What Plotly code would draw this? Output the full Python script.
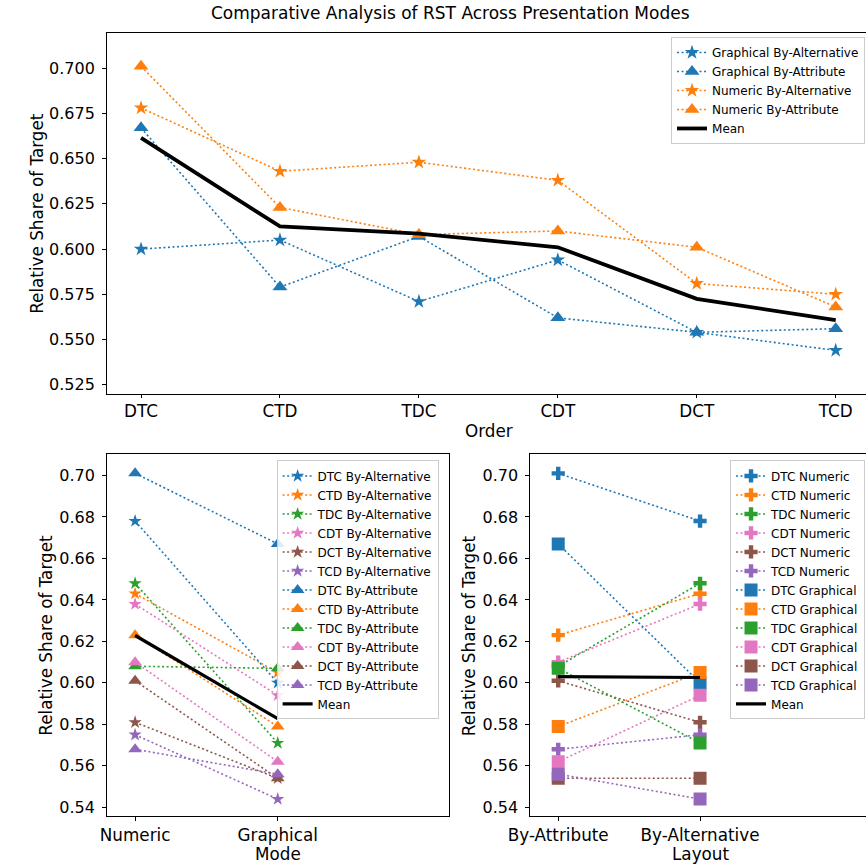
import numpy as np
import plotly.graph_objects as go

# ---------------- data ----------------
orders = ["DTC", "CTD", "TDC", "CDT", "DCT", "TCD"]
graph_alt = [0.600, 0.605, 0.571, 0.594, 0.554, 0.544]
graph_attr = [0.667, 0.579, 0.607, 0.562, 0.554, 0.556]
num_alt = [0.678, 0.643, 0.648, 0.638, 0.581, 0.575]
num_attr = [0.701, 0.623, 0.608, 0.610, 0.601, 0.568]
modes = ["Numeric", "Graphical"]
layouts = ["By-Attribute", "By-Alternative"]

order_colors = ["#1f77b4", "#ff7f0e", "#2ca02c", "#e377c2", "#8c564b", "#9467bd"]
BLUE, ORANGE = "#1f77b4", "#ff7f0e"

W, H = 866, 867
FONT = "DejaVu Sans"
DOT = "2px,2.5px"

fig = go.Figure()

def px_x(p):
    return p / W

def px_y(p):
    return 1 - p / H

# ---------------- top panel ----------------
top_series = [
    ("Graphical By-Alternative", graph_alt, BLUE, "star", 11),
    ("Graphical By-Attribute", graph_attr, BLUE, "triangle-up", 13),
    ("Numeric By-Alternative", num_alt, ORANGE, "star", 11),
    ("Numeric By-Attribute", num_attr, ORANGE, "triangle-up", 13),
]
for name, vals, col, sym, size in top_series:
    fig.add_trace(go.Scatter(
        x=orders, y=vals, name=name, mode="lines+markers",
        line=dict(color=col, width=1.6, dash=DOT),
        marker=dict(symbol=sym, size=size, color=col, line=dict(width=0)),
        xaxis="x", yaxis="y", legend="legend"))
top_mean = np.mean([graph_alt, graph_attr, num_alt, num_attr], axis=0)
fig.add_trace(go.Scatter(
    x=orders, y=top_mean, name="Mean", mode="lines",
    line=dict(color="black", width=3.8), xaxis="x", yaxis="y", legend="legend"))

# ---------------- bottom-left panel ----------------
for i, o in enumerate(orders):
    fig.add_trace(go.Scatter(
        x=modes, y=[num_alt[i], graph_alt[i]], name=f"{o} By-Alternative",
        mode="lines+markers",
        line=dict(color=order_colors[i], width=1.6, dash=DOT),
        marker=dict(symbol="star", size=10, color=order_colors[i], line=dict(width=0)),
        xaxis="x2", yaxis="y2", legend="legend2"))
for i, o in enumerate(orders):
    fig.add_trace(go.Scatter(
        x=modes, y=[num_attr[i], graph_attr[i]], name=f"{o} By-Attribute",
        mode="lines+markers",
        line=dict(color=order_colors[i], width=1.6, dash=DOT),
        marker=dict(symbol="triangle-up", size=12, color=order_colors[i], line=dict(width=0)),
        xaxis="x2", yaxis="y2", legend="legend2"))
bl_mean = [np.mean(num_alt + num_attr), np.mean(graph_alt + graph_attr)]
fig.add_trace(go.Scatter(
    x=modes, y=bl_mean, name="Mean", mode="lines",
    line=dict(color="black", width=3.2), xaxis="x2", yaxis="y2", legend="legend2"))

# ---------------- bottom-right panel ----------------
for i, o in enumerate(orders):
    fig.add_trace(go.Scatter(
        x=layouts, y=[num_attr[i], num_alt[i]], name=f"{o} Numeric",
        mode="lines+markers",
        line=dict(color=order_colors[i], width=1.6, dash=DOT),
        marker=dict(symbol="cross", size=11, color=order_colors[i], line=dict(width=0)),
        xaxis="x3", yaxis="y3", legend="legend3"))
for i, o in enumerate(orders):
    fig.add_trace(go.Scatter(
        x=layouts, y=[graph_attr[i], graph_alt[i]], name=f"{o} Graphical",
        mode="lines+markers",
        line=dict(color=order_colors[i], width=1.6, dash=DOT),
        marker=dict(symbol="square", size=13, color=order_colors[i], line=dict(width=0)),
        xaxis="x3", yaxis="y3", legend="legend3"))
br_mean = [np.mean(num_attr + graph_attr), np.mean(num_alt + graph_alt)]
fig.add_trace(go.Scatter(
    x=layouts, y=br_mean, name="Mean", mode="lines",
    line=dict(color="black", width=3.2), xaxis="x3", yaxis="y3", legend="legend3"))

# ---------------- axes ----------------
def xax(domain, rng, size, standoff):
    return dict(domain=domain, range=rng, type="category", showline=True, linecolor="black",
                linewidth=1, mirror=True, ticks="outside", ticklen=3.5, tickcolor="black",
                showgrid=False, zeroline=False, ticklabelstandoff=standoff,
                tickfont=dict(size=size, color="black"))

def yax(domain, rng, dtick, fmt, size, mirror):
    return dict(domain=domain, range=rng, showline=True, linecolor="black", linewidth=1,
                mirror=mirror, ticks="outside", ticklen=3.5, tickcolor="black",
                showgrid=False, zeroline=False, dtick=dtick, tick0=0, tickformat=fmt,
                ticklabelstandoff=4, tickfont=dict(size=size, color="black"))

top_dom_y = [px_y(394.3), px_y(32.7)]
bot_dom_y = [px_y(817), px_y(455)]

legend_common = dict(bgcolor="rgba(255,255,255,0.85)", bordercolor="#cccccc", borderwidth=1,
                     tracegroupgap=0, yanchor="top", xanchor="right",
                     font=dict(family=FONT, size=12, color="black"))

annotations = [
    dict(text="Comparative Analysis of RST Across Presentation Modes", x=px_x(440), y=px_y(13),
         font=dict(size=17)),
    dict(text="Relative Share of Target", x=px_x(17), y=px_y(213.5), textangle=-90,
         font=dict(size=16.8)),
    dict(text="Order", x=px_x(480), y=px_y(431), font=dict(size=16.8)),
    dict(text="Relative Share of Target", x=px_x(26), y=px_y(636), textangle=-90,
         font=dict(size=16.8)),
    dict(text="Mode", x=px_x(263), y=px_y(855), font=dict(size=16.8)),
    dict(text="Relative Share of Target", x=px_x(459), y=px_y(636), textangle=-90,
         font=dict(size=16.8)),
    dict(text="Layout", x=px_x(696), y=px_y(855), font=dict(size=16.8)),
]
for a in annotations:
    a.update(xref="paper", yref="paper", xanchor="center", yanchor="middle", showarrow=False)
    a["font"].update(family=FONT, color="black")

fig.update_layout(
    width=W, height=H, margin=dict(l=0, r=0, t=0, b=0),
    paper_bgcolor="white", plot_bgcolor="white",
    font=dict(family=FONT, color="black"),
    showlegend=True,
    xaxis=xax([px_x(87.7), 1.0], [-0.248, 5.218], 16.8, -2),
    yaxis=yax(top_dom_y, [0.520, 0.7196], 0.025, ".3f", 16, False),
    xaxis2=dict(xax([px_x(87.7), px_x(438.5)], [-0.2, 2.2], 16.8, 0), anchor="y2"),
    yaxis2=dict(yax(bot_dom_y, [0.5358, 0.7101], 0.02, ".2f", 16, True), anchor="x2"),
    xaxis3=dict(xax([px_x(521.5), 1.0], [-0.2, 2.17], 16.8, 0), anchor="y3"),
    yaxis3=dict(yax(bot_dom_y, [0.5358, 0.7101], 0.02, ".2f", 16, False), anchor="x3"),
    legend=dict(legend_common, x=px_x(865), y=px_y(37)),
    legend2=dict(legend_common, x=px_x(428), y=px_y(461)),
    legend3=dict(legend_common, x=px_x(865), y=px_y(461)),
    annotations=annotations,
)

fig.write_html("out.html", config={"displayModeBar": False},
               post_script="document.body.style.margin='0';document.body.style.overflow='hidden';")
